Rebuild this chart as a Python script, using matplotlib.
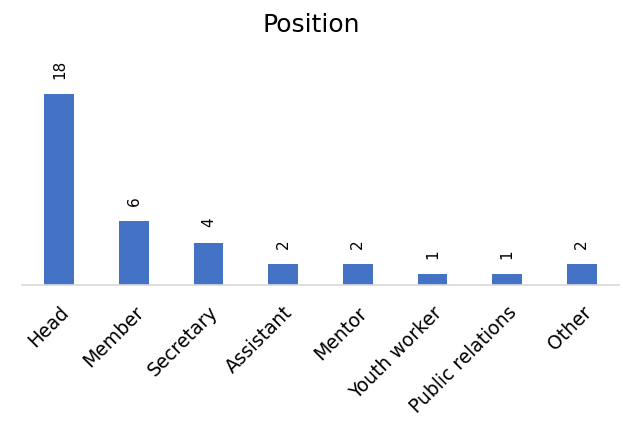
import matplotlib
matplotlib.use("Agg")
import matplotlib.pyplot as plt

categories = ["Head", "Member", "Secretary", "Assistant", "Mentor",
              "Youth worker", "Public relations", "Other"]
counts = [18, 6, 4, 2, 2, 1, 1, 2]

plt.rcParams["font.family"] = ["DejaVu Sans"]

fig = plt.figure(figsize=(6.23, 4.45), dpi=100)
ax = fig.add_axes([22 / 623, 1 - 285 / 445, 597 / 623, 212 / 445])

x = list(range(len(categories)))
ax.bar(x, counts, width=0.4, color="#4472C4", zorder=2)

for xi, v in zip(x, counts):
    ax.annotate(str(v), (xi, v), xytext=(0, 11), textcoords="offset points",
                rotation=90, ha="center", va="bottom", fontsize=11, color="#000000")

ax.set_xlim(-0.5, len(categories) - 0.5)
ax.set_ylim(0, 20)
ax.set_yticks([])
ax.set_xticks(x)
ax.set_xticklabels(categories, rotation=45, ha="right", rotation_mode="anchor",
                   fontsize=13.5, color="#000000")
ax.tick_params(axis="x", length=0, pad=13)

for s in ["top", "right", "left"]:
    ax.spines[s].set_visible(False)
ax.spines["bottom"].set_color("#D9D9D9")
ax.spines["bottom"].set_linewidth(1.2)

fig.text(0.5, 1 - 25 / 445, "Position", ha="center", va="center",
         fontsize=18, color="#000000")

fig.savefig("out.png", dpi=100)
